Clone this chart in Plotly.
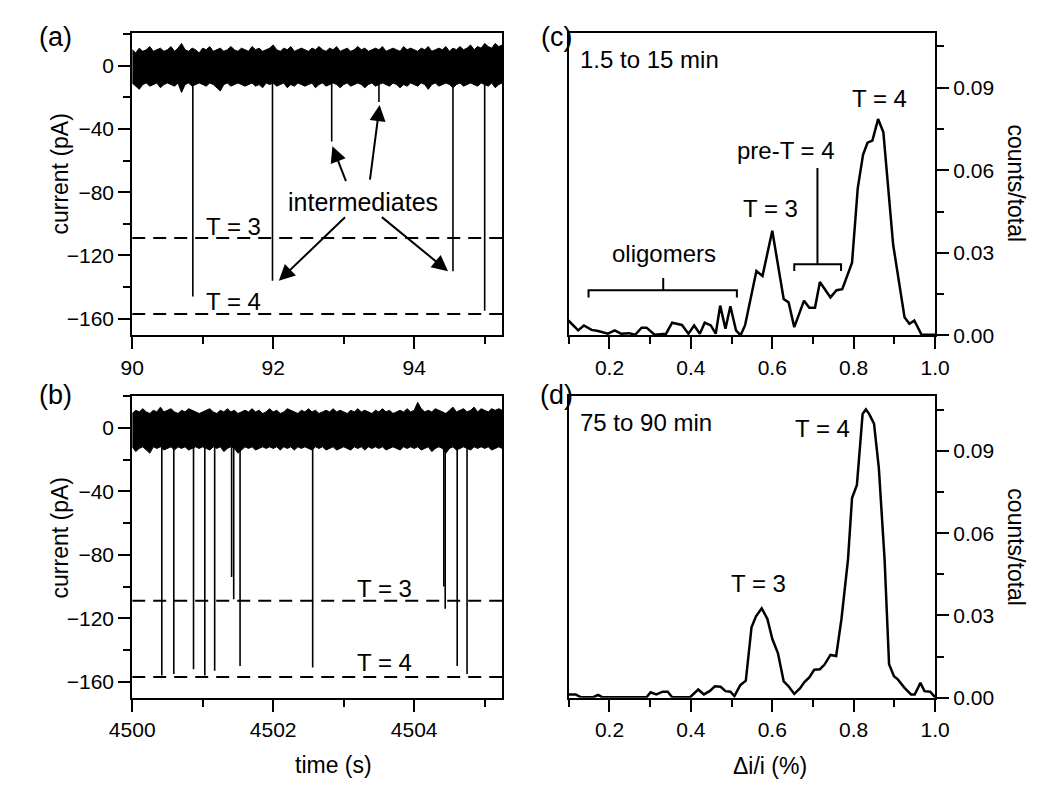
import plotly.graph_objects as go

# ---------------- data ----------------
# noise sampling offsets (s) from the start of each trace
noise_offset_s = [0.00, 0.05, 0.10, 0.15, 0.20, 0.25, 0.30, 0.35, 0.40, 0.45,
                  0.50, 0.55, 0.60, 0.65, 0.70, 0.75, 0.80, 0.85, 0.90, 0.95,
                  1.00, 1.05, 1.10, 1.15, 1.20, 1.25, 1.30, 1.35, 1.40, 1.45,
                  1.50, 1.55, 1.60, 1.65, 1.70, 1.75, 1.80, 1.85, 1.90, 1.95,
                  2.00, 2.05, 2.10, 2.15, 2.20, 2.25, 2.30, 2.35, 2.40, 2.45,
                  2.50, 2.55, 2.60, 2.65, 2.70, 2.75, 2.80, 2.85, 2.90, 2.95,
                  3.00, 3.05, 3.10, 3.15, 3.20, 3.25, 3.30, 3.35, 3.40, 3.45,
                  3.50, 3.55, 3.60, 3.65, 3.70, 3.75, 3.80, 3.85, 3.90, 3.95,
                  4.00, 4.05, 4.10, 4.15, 4.20, 4.25, 4.30, 4.35, 4.40, 4.45,
                  4.50, 4.55, 4.60, 4.65, 4.70, 4.75, 4.80, 4.85, 4.90, 4.95,
                  5.00, 5.05, 5.10, 5.15, 5.20, 5.25]

# (a) 90-95.25 s: upper / lower noise envelope (pA)
a_noise_hi = [10, 8, 11, 9, 10, 12, 9, 10, 11, 9,
              10, 12, 9, 11, 14, 10, 9, 11, 10, 8,
              11, 10, 12, 9, 10, 11, 9, 10, 12, 10,
              9, 11, 10, 9, 12, 10, 11, 9, 10, 11,
              13, 10, 9, 11, 10, 12, 9, 10, 11, 10,
              9, 11, 10, 12, 10, 9, 11, 10, 12, 9,
              10, 11, 9, 10, 12, 10, 11, 9, 10, 11,
              10, 12, 9, 10, 11, 10, 9, 12, 10, 11,
              10, 9, 11, 10, 12, 9, 10, 11, 10, 12,
              9, 11, 10, 12, 10, 11, 13, 10, 12, 11,
              14, 12, 11, 14, 12, 13]
a_noise_lo = [-11, -13, -15, -12, -11, -13, -12, -11, -14, -12,
              -11, -12, -13, -11, -17, -12, -11, -13, -12, -11,
              -12, -13, -11, -12, -14, -16, -12, -11, -13, -12,
              -11, -12, -13, -12, -11, -13, -12, -14, -11, -12,
              -11, -13, -12, -11, -14, -12, -13, -11, -12, -13,
              -12, -11, -14, -12, -11, -13, -12, -11, -12, -14,
              -12, -11, -13, -12, -11, -12, -14, -12, -11, -13,
              -12, -11, -12, -13, -11, -12, -14, -12, -13, -11,
              -12, -13, -11, -12, -15, -12, -11, -13, -12, -11,
              -12, -14, -12, -11, -13, -12, -11, -12, -13, -11,
              -12, -13, -11, -14, -12, -11]
a_event_t = [90.86, 91.99, 92.83, 93.50, 94.55, 95.00]
a_event_depth = [-146, -136, -48, -23, -130, -155]

# (b) 4500-4505.25 s
b_noise_hi = [9, 11, 10, 12, 10, 9, 11, 10, 13, 10,
              11, 12, 10, 9, 11, 10, 12, 11, 10, 9,
              10, 11, 12, 10, 9, 11, 10, 12, 10, 11,
              9, 10, 11, 10, 12, 10, 11, 9, 10, 12,
              10, 11, 9, 10, 12, 11, 10, 9, 11, 10,
              12, 10, 11, 9, 10, 11, 10, 12, 10, 11,
              10, 9, 11, 10, 12, 10, 11, 10, 9, 11,
              10, 12, 10, 11, 9, 10, 11, 10, 12, 10,
              11, 16, 12, 10, 11, 10, 12, 11, 10, 9,
              11, 13, 10, 11, 12, 10, 11, 13, 10, 12,
              11, 10, 12, 11, 12, 11]
b_noise_lo = [-12, -15, -13, -12, -14, -16, -12, -13, -12, -14,
              -13, -12, -14, -12, -13, -12, -14, -13, -12, -13,
              -12, -13, -14, -12, -13, -12, -15, -13, -12, -13,
              -16, -14, -12, -13, -12, -14, -13, -12, -13, -12,
              -13, -12, -14, -12, -13, -12, -14, -12, -13, -12,
              -13, -14, -12, -13, -12, -14, -13, -12, -14, -13,
              -12, -13, -14, -12, -13, -12, -14, -12, -13, -12,
              -13, -12, -14, -13, -12, -13, -14, -12, -13, -12,
              -13, -12, -14, -13, -12, -15, -13, -12, -13, -16,
              -13, -12, -14, -13, -12, -13, -14, -12, -13, -12,
              -13, -12, -14, -13, -12, -13]
b_event_t = [4500.42, 4500.59, 4500.87, 4501.03, 4501.17, 4501.41, 4501.44,
             4501.53, 4502.56, 4504.42, 4504.44, 4504.61, 4504.75]
b_event_depth = [-156, -155, -152, -156, -153, -94, -108,
                 -150, -151, -100, -114, -150, -155]

# dashed reference levels (pA)
level_T3 = -109
level_T4 = -157

# (c) histogram 1.5 to 15 min
c_x = [0.099, 0.123, 0.137, 0.156, 0.172, 0.196, 0.213, 0.228, 0.248, 0.263,
       0.279, 0.291, 0.311, 0.339, 0.354, 0.378, 0.394, 0.408, 0.422, 0.434,
       0.449, 0.461, 0.472, 0.485, 0.497, 0.511, 0.522, 0.533, 0.561, 0.576,
       0.600, 0.628, 0.640, 0.654, 0.678, 0.691, 0.705, 0.717, 0.743, 0.758,
       0.772, 0.796, 0.810, 0.823, 0.834, 0.846, 0.860, 0.873, 0.897, 0.925,
       0.937, 0.949, 0.967, 1.0]
c_y = [0.0054, 0.0018, 0.0036, 0.0020, 0.0016, 0.0006, 0.0018, 0.0006, 0.0008, 0.0002,
       0.0028, 0.0028, 0.0002, 0.0006, 0.0046, 0.0038, 0.0006, 0.0036, 0.0006, 0.0046,
       0.0036, 0.0006, 0.0108, 0.0024, 0.0106, 0.0018, 0.0000, 0.0036, 0.0234, 0.0216,
       0.0380, 0.0132, 0.0120, 0.0030, 0.0126, 0.0100, 0.0100, 0.0194, 0.0138, 0.0164,
       0.0168, 0.0264, 0.0534, 0.0656, 0.0700, 0.0708, 0.0786, 0.0738, 0.0330, 0.0066,
       0.0042, 0.0054, 0.0002, 0.0002]

# (d) histogram 75 to 90 min
d_x = [0.099, 0.117, 0.129, 0.160, 0.172, 0.182, 0.291, 0.301, 0.315, 0.331,
       0.343, 0.354, 0.398, 0.418, 0.432, 0.446, 0.459, 0.473, 0.485, 0.497,
       0.507, 0.521, 0.535, 0.549, 0.560, 0.574, 0.588, 0.600, 0.614, 0.628,
       0.640, 0.654, 0.668, 0.679, 0.691, 0.703, 0.717, 0.728, 0.743, 0.757,
       0.770, 0.786, 0.796, 0.808, 0.822, 0.830, 0.838, 0.850, 0.862, 0.876,
       0.887, 0.899, 0.909, 0.925, 0.941, 0.950, 0.964, 0.974, 0.988, 1.0]
d_y = [0.0012, 0.0012, 0.0002, 0.0002, 0.0010, 0.0002, 0.0002, 0.0020, 0.0012, 0.0022,
       0.0022, 0.0002, 0.0002, 0.0030, 0.0012, 0.0024, 0.0042, 0.0040, 0.0024, 0.0022,
       0.0006, 0.0045, 0.0062, 0.0257, 0.0297, 0.0326, 0.0287, 0.0215, 0.0162, 0.0060,
       0.0042, 0.0014, 0.0034, 0.0057, 0.0074, 0.0102, 0.0104, 0.0120, 0.0156, 0.0152,
       0.0287, 0.0503, 0.0728, 0.0776, 0.1035, 0.1051, 0.1035, 0.0999, 0.0835, 0.0503,
       0.0122, 0.0078, 0.0066, 0.0036, 0.0012, 0.0012, 0.0054, 0.0024, 0.0022, 0.0002]

# brackets in (c): [x_left, x_right, x_mid, y_bar, y_end, y_top]
oligomer_bracket = [0.1485, 0.513, 0.332, 0.0164, 0.0138, 0.0208]
preT4_bracket = [0.654, 0.769, 0.711, 0.0258, 0.0234, 0.0608]

# ---------------- figure ----------------
FONT = "Arial, Liberation Sans, sans-serif"
BLACK = "black"
fig = go.Figure()


def band(t, hi, lo, xa, ya):
    xs = list(t) + list(t)[::-1]
    ys = list(hi) + list(lo)[::-1]
    fig.add_trace(go.Scatter(x=xs, y=ys, fill="toself", fillcolor=BLACK, mode="lines",
                             line=dict(color=BLACK, width=1), xaxis=xa, yaxis=ya,
                             hoverinfo="skip", showlegend=False))


def events(ts, depths, xa, ya):
    xs, ys = [], []
    for t, d in zip(ts, depths):
        xs += [t, t, None]
        ys += [-5, d, None]
    fig.add_trace(go.Scatter(x=xs, y=ys, mode="lines", line=dict(color=BLACK, width=1.6),
                             xaxis=xa, yaxis=ya, showlegend=False, hoverinfo="skip"))


def levels(x0, x1, xa, ya):
    for lv in (level_T3, level_T4):
        fig.add_trace(go.Scatter(x=[x0, x1], y=[lv, lv], mode="lines",
                                 line=dict(color=BLACK, width=2, dash="13px,8px"),
                                 xaxis=xa, yaxis=ya, showlegend=False, hoverinfo="skip"))


a_t = [90 + o for o in noise_offset_s]
b_t = [4500 + o for o in noise_offset_s]
levels(90, 95.25, "x", "y")
band(a_t, a_noise_hi, a_noise_lo, "x", "y")
events(a_event_t, a_event_depth, "x", "y")
levels(4500, 4505.25, "x2", "y2")
band(b_t, b_noise_hi, b_noise_lo, "x2", "y2")
events(b_event_t, b_event_depth, "x2", "y2")

fig.add_trace(go.Scatter(x=c_x, y=c_y, mode="lines", line=dict(color=BLACK, width=2.5),
                         xaxis="x3", yaxis="y3", showlegend=False))
fig.add_trace(go.Scatter(x=d_x, y=d_y, mode="lines", line=dict(color=BLACK, width=2.5),
                         xaxis="x4", yaxis="y4", showlegend=False))

for br in (oligomer_bracket, preT4_bracket):
    xl, xr, xm, yb, ye, yt = br
    fig.add_trace(go.Scatter(x=[xl, xl, xr, xr, None, xm, xm], y=[ye, yb, yb, ye, None, yb, yt],
                             mode="lines", line=dict(color=BLACK, width=2),
                             xaxis="x3", yaxis="y3", showlegend=False, hoverinfo="skip"))

tickfont = dict(family=FONT, size=21, color=BLACK)
common = dict(showline=True, mirror=True, linecolor=BLACK, linewidth=2, ticks="outside",
              ticklen=12, tickwidth=2, tickcolor=BLACK, showgrid=False, zeroline=False,
              tickfont=tickfont)

xdomL = [105 / 1050, 489 / 1050]
xdomR = [558 / 1050, 938 / 1050]
ydomT = [1 - 332 / 788, 1 - 25 / 788]
ydomB = [1 - 699.5 / 788, 1 - 393.5 / 788]

minor_t = dict(dtick=1, ticks="outside", ticklen=7, tickwidth=2, tickcolor=BLACK)
minor_i = dict(dtick=20, ticks="outside", ticklen=7, tickwidth=2, tickcolor=BLACK)
minor_h = dict(dtick=0.1, ticks="outside", ticklen=7, tickwidth=2, tickcolor=BLACK)
minor_c = dict(dtick=0.015, tick0=0, ticks="outside", ticklen=7, tickwidth=2, tickcolor=BLACK)

fig.update_layout(
    width=1050, height=788, margin=dict(l=0, r=0, t=0, b=0),
    paper_bgcolor="white", plot_bgcolor="white", showlegend=False,
    font=dict(family=FONT, color=BLACK),
    xaxis=dict(domain=xdomL, anchor="y", range=[90, 95.25], tick0=90, dtick=2, minor=minor_t, **common),
    yaxis=dict(domain=ydomT, anchor="x", range=[-170.5, 20.8], tick0=0, dtick=40, minor=minor_i, **common),
    xaxis2=dict(domain=xdomL, anchor="y2", range=[4500, 4505.25], tick0=4500, dtick=2, minor=minor_t, **common),
    yaxis2=dict(domain=ydomB, anchor="x2", range=[-170, 20], tick0=0, dtick=40, minor=minor_i, **common),
    xaxis3=dict(domain=xdomR, anchor="y3", range=[0.1, 1.0], tick0=0.2, dtick=0.2, tickformat=".1f",
                minor=minor_h, **common),
    yaxis3=dict(domain=ydomT, anchor="x3", side="right", range=[0, 0.11], tick0=0, dtick=0.03,
                tickformat=".2f", minor=minor_c, **common),
    xaxis4=dict(domain=xdomR, anchor="y4", range=[0.1, 1.0], tick0=0.2, dtick=0.2, tickformat=".1f",
                minor=minor_h, **common),
    yaxis4=dict(domain=ydomB, anchor="x4", side="right", range=[0, 0.11], tick0=0, dtick=0.03,
                tickformat=".2f", minor=minor_c, **common),
)

ann = []


def txt(x, y, s, xref, yref, size=24, angle=0, xanchor="center", yanchor="middle"):
    ann.append(dict(x=x, y=y, xref=xref, yref=yref, text=s, showarrow=False, textangle=angle,
                    xanchor=xanchor, yanchor=yanchor, font=dict(family=FONT, size=size, color=BLACK)))


# panel labels
txt(25 / 1050, 1 - 29 / 788, "(a)", "paper", "paper", 27)
txt(25 / 1050, 1 - 392 / 788, "(b)", "paper", "paper", 27)
txt(545 / 1050, 1 - 29 / 788, "(c)", "paper", "paper", 27)
txt(545 / 1050, 1 - 392 / 788, "(d)", "paper", "paper", 27)
# axis titles
txt(30 / 1050, 1 - 168 / 788, "current (pA)", "paper", "paper", 23, -90)
txt(30 / 1050, 1 - 537 / 788, "current (pA)", "paper", "paper", 23, -90)
txt(1022 / 1050, 1 - 178 / 788, "counts/total", "paper", "paper", 23, 90)
txt(1022 / 1050, 1 - 547 / 788, "counts/total", "paper", "paper", 23, 90)
txt(314 / 1050, 1 - 768 / 788, "time (s)", "paper", "paper", 23)
txt(767 / 1050, 1 - 769 / 788, "Δi/i (%)", "paper", "paper", 23)
# panel (a)
txt(91.43, -102, "T = 3", "x", "y")
txt(91.43, -149, "T = 4", "x", "y")
txt(93.28, -86, "intermediates", "x", "y", 25)
# panel (b)
txt(4503.58, -101, "T = 3", "x2", "y2")
txt(4503.58, -148, "T = 4", "x2", "y2")
# panel (c)
txt(0.122, 0.1004, "1.5 to 15 min", "x3", "y3", 24, 0, "left")
txt(0.335, 0.0296, "oligomers", "x3", "y3")
txt(0.633, 0.067, "pre-T = 4", "x3", "y3")
txt(0.596, 0.046, "T = 3", "x3", "y3")
txt(0.863, 0.086, "T = 4", "x3", "y3")
# panel (d)
txt(0.122, 0.1005, "75 to 90 min", "x4", "y4", 24, 0, "left")
txt(0.567, 0.0417, "T = 3", "x4", "y4")
txt(0.723, 0.098, "T = 4", "x4", "y4")

# arrows in (a): (head_x, head_y, tail_x, tail_y)
arrows = [(92.84, -51, 93.04, -74), (93.51, -25, 93.37, -73),
          (92.08, -136, 93.04, -95), (94.48, -130, 93.52, -95)]
for hx, hy, tx, ty in arrows:
    ann.append(dict(x=hx, y=hy, ax=tx, ay=ty, xref="x", yref="y", axref="x", ayref="y",
                    text="", showarrow=True, arrowhead=2, arrowsize=1.6, arrowwidth=2,
                    arrowcolor=BLACK, standoff=0, startstandoff=0))

fig.update_layout(annotations=ann)
fig.write_html("out.html")
